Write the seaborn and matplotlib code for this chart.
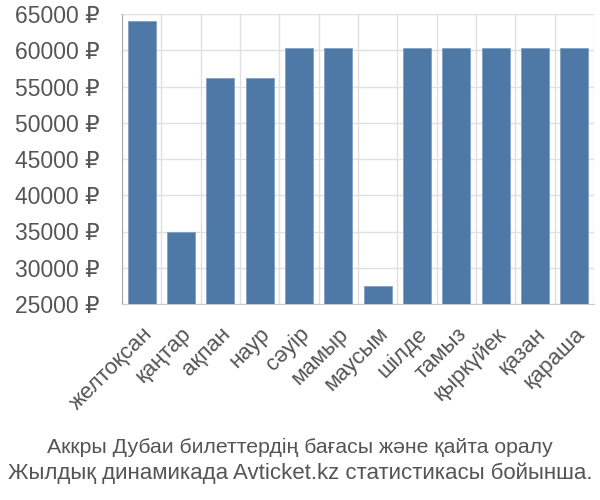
import matplotlib
matplotlib.use("Agg")
import matplotlib.pyplot as plt
import seaborn as sns
import pandas as pd
from matplotlib.ticker import FuncFormatter, MultipleLocator

months = ["желтоқсан", "қаңтар", "ақпан", "наур", "сәуір", "мамыр", "маусым",
          "шілде", "тамыз", "қыркүйек", "қазан", "қараша"]
prices = [64000, 35000, 56200, 56200, 60300, 60300, 27500,
          60300, 60300, 60300, 60300, 60300]
title_lines = ["Аккры Дубаи билеттердің бағасы және қайта оралу",
               "Жылдық динамикада Avticket.kz статистикасы бойынша."]

df = pd.DataFrame({"month": months, "price": prices})

sns.set_style("white")
plt.rcParams["font.family"] = ["Liberation Sans", "DejaVu Sans"]

fig = plt.figure(figsize=(6, 5), dpi=100)
ax = fig.add_axes([122/600, 1 - 304/500, (594-122)/600, (304-14)/500])

sns.barplot(data=df, x="month", y="price", color="#4e79a7", width=0.72,
            edgecolor="#7fa0c4", linewidth=0.6, ax=ax, zorder=3, saturation=1)

ax.set_ylim(25000, 65000)
ax.set_xlim(-0.5, len(months) - 0.5)
ax.yaxis.set_major_locator(MultipleLocator(5000))
ax.yaxis.set_major_formatter(FuncFormatter(lambda v, p: f"{int(v)} ₽"))
ax.set_xticks([i - 0.5 for i in range(len(months) + 1)], minor=False)
ax.set_xticklabels([""] * (len(months) + 1))
ax.set_xticks(range(len(months)), minor=True)
ax.set_xticklabels(months, minor=True, rotation=45, ha="right",
                   rotation_mode="anchor", fontsize=16, color="#555555")
ax.tick_params(axis="x", which="minor", length=0, pad=14)
ax.tick_params(axis="x", which="major", length=18, color="#d9d9d9", width=1)
ax.tick_params(axis="y", length=19, color="#d9d9d9", width=1,
               labelsize=16.5, labelcolor="#555555", pad=-3)
ax.grid(True, axis="both", which="major", color="#e0e0e0", linewidth=1, zorder=0)
ax.set_xlabel("")
ax.set_ylabel("")
for s in ["top", "right"]:
    ax.spines[s].set_visible(False)
ax.spines["left"].set_color("#aaaaaa")
ax.spines["bottom"].set_color("#cccccc")

fig.text(0.5, 1 - 447/500, title_lines[0], ha="center", va="center",
         fontsize=15.3, color="#555555")
fig.text(0.5, 1 - 473/500, title_lines[1], ha="center", va="center",
         fontsize=16, color="#555555")

fig.savefig("out.png", dpi=100)
